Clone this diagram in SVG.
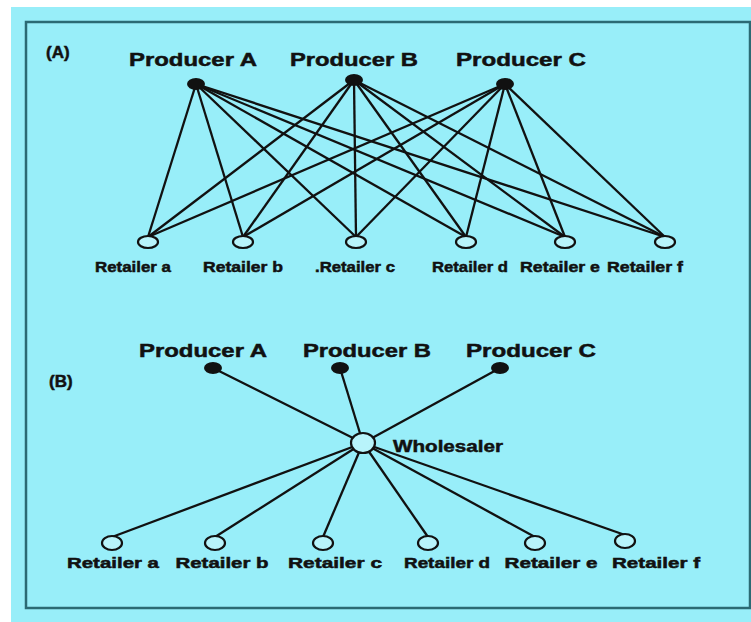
<svg xmlns="http://www.w3.org/2000/svg" width="751" height="622" viewBox="0 0 751 622">
<style>
.t{font-family:"Liberation Sans",Arial,sans-serif;font-weight:bold;fill:#111;stroke:#111;stroke-width:0.5}
.p{font-size:19px}
.r{font-size:15px}
.c line{stroke:#111;stroke-width:2.3}
.dot{fill:#111}
.ret{fill:#b8f4fb;stroke:#111;stroke-width:2.2}
</style>
<rect x="0" y="0" width="751" height="622" fill="#fff"/>
<rect x="11" y="7" width="740" height="615" fill="#98eef9"/>
<rect x="26" y="22" width="724" height="586" fill="none" stroke="#2b6a74" stroke-width="2.5"/>
<text class="t" x="46" y="58" font-size="17">(A)</text>
<text class="t" x="49" y="387" font-size="17">(B)</text>
<g class="c" id="connectors">
<line x1="196" y1="84" x2="148" y2="237"/><line x1="196" y1="84" x2="243" y2="237"/><line x1="196" y1="84" x2="356" y2="237"/><line x1="196" y1="84" x2="466" y2="237"/><line x1="196" y1="84" x2="565" y2="237"/><line x1="196" y1="84" x2="665" y2="237"/>
<line x1="354" y1="80" x2="148" y2="237"/><line x1="354" y1="80" x2="243" y2="237"/><line x1="354" y1="80" x2="356" y2="237"/><line x1="354" y1="80" x2="466" y2="237"/><line x1="354" y1="80" x2="565" y2="237"/><line x1="354" y1="80" x2="665" y2="237"/>
<line x1="505" y1="84" x2="148" y2="237"/><line x1="505" y1="84" x2="243" y2="237"/><line x1="505" y1="84" x2="356" y2="237"/><line x1="505" y1="84" x2="466" y2="237"/><line x1="505" y1="84" x2="565" y2="237"/><line x1="505" y1="84" x2="665" y2="237"/>
<line x1="213" y1="368" x2="363" y2="443"/><line x1="340" y1="368" x2="363" y2="443"/><line x1="500" y1="368" x2="363" y2="443"/>
<line x1="363" y1="443" x2="112" y2="537"/><line x1="363" y1="443" x2="215" y2="537"/><line x1="363" y1="443" x2="323" y2="537"/><line x1="363" y1="443" x2="428" y2="537"/><line x1="363" y1="443" x2="535" y2="537"/><line x1="363" y1="443" x2="625" y2="535"/>
</g>
<g id="A-producer-a"><ellipse class="dot" cx="196" cy="84" rx="9" ry="6"/><text class="t p" x="193" y="66" text-anchor="middle" textLength="128" lengthAdjust="spacingAndGlyphs">Producer A</text></g>
<g id="A-producer-b"><ellipse class="dot" cx="354" cy="80" rx="9" ry="6"/><text class="t p" x="354" y="66" text-anchor="middle" textLength="128" lengthAdjust="spacingAndGlyphs">Producer B</text></g>
<g id="A-producer-c"><ellipse class="dot" cx="505" cy="84" rx="9" ry="6"/><text class="t p" x="521" y="66" text-anchor="middle" textLength="130" lengthAdjust="spacingAndGlyphs">Producer C</text></g>
<g id="A-retailer-a"><ellipse class="ret" cx="148" cy="242" rx="10" ry="6"/><text class="t r" x="133" y="272" text-anchor="middle" textLength="76" lengthAdjust="spacingAndGlyphs">Retailer a</text></g>
<g id="A-retailer-b"><ellipse class="ret" cx="243" cy="242" rx="10" ry="6"/><text class="t r" x="243" y="272" text-anchor="middle" textLength="80" lengthAdjust="spacingAndGlyphs">Retailer b</text></g>
<g id="A-retailer-c"><ellipse class="ret" cx="356" cy="242" rx="10" ry="6"/><text class="t r" x="355" y="272" text-anchor="middle" textLength="80" lengthAdjust="spacingAndGlyphs">.Retailer c</text></g>
<g id="A-retailer-d"><ellipse class="ret" cx="466" cy="242" rx="10" ry="6"/><text class="t r" x="470" y="272" text-anchor="middle" textLength="76" lengthAdjust="spacingAndGlyphs">Retailer d</text></g>
<g id="A-retailer-e"><ellipse class="ret" cx="565" cy="242" rx="10" ry="6"/><text class="t r" x="560" y="272" text-anchor="middle" textLength="80" lengthAdjust="spacingAndGlyphs">Retailer e</text></g>
<g id="A-retailer-f"><ellipse class="ret" cx="665" cy="242" rx="10" ry="6"/><text class="t r" x="645" y="272" text-anchor="middle" textLength="76" lengthAdjust="spacingAndGlyphs">Retailer f</text></g>
<g id="B-producer-a"><ellipse class="dot" cx="213" cy="368" rx="9" ry="6"/><text class="t p" x="203" y="357" text-anchor="middle" textLength="128" lengthAdjust="spacingAndGlyphs">Producer A</text></g>
<g id="B-producer-b"><ellipse class="dot" cx="340" cy="368" rx="9" ry="6"/><text class="t p" x="367" y="357" text-anchor="middle" textLength="128" lengthAdjust="spacingAndGlyphs">Producer B</text></g>
<g id="B-producer-c"><ellipse class="dot" cx="500" cy="368" rx="9" ry="6"/><text class="t p" x="531" y="357" text-anchor="middle" textLength="130" lengthAdjust="spacingAndGlyphs">Producer C</text></g>
<g id="B-wholesaler"><ellipse class="ret" cx="363" cy="443" rx="12" ry="10"/><text class="t" x="393" y="452" font-size="17" textLength="110" lengthAdjust="spacingAndGlyphs">Wholesaler</text></g>
<g id="B-retailer-a"><ellipse class="ret" cx="112" cy="543" rx="10" ry="7"/><text class="t r" x="113" y="568" text-anchor="middle" textLength="92" lengthAdjust="spacingAndGlyphs">Retailer a</text></g>
<g id="B-retailer-b"><ellipse class="ret" cx="215" cy="543" rx="10" ry="7"/><text class="t r" x="222" y="568" text-anchor="middle" textLength="93" lengthAdjust="spacingAndGlyphs">Retailer b</text></g>
<g id="B-retailer-c"><ellipse class="ret" cx="323" cy="543" rx="10" ry="7"/><text class="t r" x="335" y="568" text-anchor="middle" textLength="94" lengthAdjust="spacingAndGlyphs">Retailer c</text></g>
<g id="B-retailer-d"><ellipse class="ret" cx="428" cy="543" rx="10" ry="7"/><text class="t r" x="447" y="568" text-anchor="middle" textLength="86" lengthAdjust="spacingAndGlyphs">Retailer d</text></g>
<g id="B-retailer-e"><ellipse class="ret" cx="535" cy="543" rx="10" ry="7"/><text class="t r" x="551" y="568" text-anchor="middle" textLength="93" lengthAdjust="spacingAndGlyphs">Retailer e</text></g>
<g id="B-retailer-f"><ellipse class="ret" cx="625" cy="541" rx="10" ry="7"/><text class="t r" x="656" y="568" text-anchor="middle" textLength="88" lengthAdjust="spacingAndGlyphs">Retailer f</text></g>
</svg>
